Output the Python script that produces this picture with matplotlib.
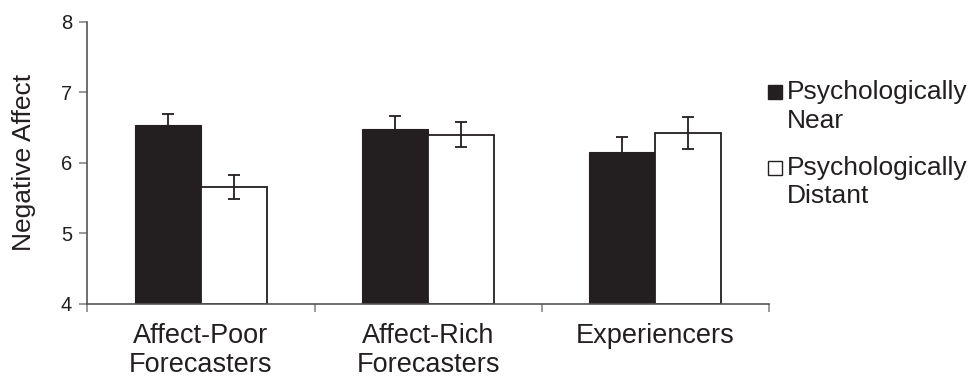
import numpy as np
import matplotlib.pyplot as plt
from matplotlib.patches import Rectangle

plt.rcParams['font.family'] = ['Liberation Sans', 'DejaVu Sans']

groups = ['Affect-Poor\nForecasters', 'Affect-Rich\nForecasters', 'Experiencers']
near_mean = [6.54, 6.48, 6.16]
near_err = [0.16, 0.18, 0.20]
distant_mean = [5.66, 6.40, 6.42]
distant_err = [0.17, 0.18, 0.23]
series_labels = [['Psychologically', 'Near'], ['Psychologically', 'Distant']]

bar_black = '#231f20'
axis_grey = '#555555'
W, H = 971, 378

fig = plt.figure(figsize=(9.71, 3.78), dpi=100)
ax = fig.add_axes([0.0899, 0.1966, 0.702, 0.7452])

x = np.arange(len(groups))
w = 0.29
ekw = dict(ecolor=bar_black, elinewidth=1.3, capsize=4.5, capthick=1.3)

ax.bar(x - w / 2, np.array(near_mean) - 4, w, bottom=4, color=bar_black,
       edgecolor=bar_black, linewidth=0.8, yerr=near_err, error_kw=ekw)
ax.bar(x + w / 2, np.array(distant_mean) - 4, w, bottom=4, color='white',
       edgecolor=bar_black, linewidth=1.3, yerr=distant_err, error_kw=ekw)

ax.set_xlim(-0.5, 2.5)
ax.set_ylim(4, 8)
ax.set_yticks([4, 5, 6, 7, 8])
ax.set_xticks(x)
ax.set_xticklabels(groups, fontsize=19.5, color=bar_black, linespacing=1.15)
ax.set_xticks(np.arange(-0.5, 3.0, 1.0), minor=True)
ax.tick_params(axis='x', which='major', length=0, pad=14)
ax.tick_params(axis='x', which='minor', length=6, width=1.2, color='#888888',
               direction='out')
ax.tick_params(axis='y', length=6, width=1.2, color='#888888', labelsize=14.5,
               labelcolor=bar_black, pad=5)

for side in ['top', 'right']:
    ax.spines[side].set_visible(False)
for side in ['left', 'bottom']:
    ax.spines[side].set_color(axis_grey)
    ax.spines[side].set_linewidth(1.2)

ax.set_ylabel('Negative Affect', fontsize=19, color=bar_black, labelpad=18)

# legend drawn by hand so the swatch sits on the first text line
swatch_fill = [bar_black, 'white']
swatch_top = [85, 161]
line1_base = [99, 175]
line2_base = [127.7, 203]
for i, (l1, l2) in enumerate(series_labels):
    fig.patches.append(Rectangle((767.5 / W, 1 - (swatch_top[i] + 14) / H),
                                 14 / W, 14 / H, transform=fig.transFigure,
                                 facecolor=swatch_fill[i], edgecolor=bar_black,
                                 linewidth=1.0))
    fig.text(787 / W, 1 - line1_base[i] / H, l1, fontsize=19, color=bar_black,
             va='baseline', ha='left')
    fig.text(787 / W, 1 - line2_base[i] / H, l2, fontsize=19, color=bar_black,
             va='baseline', ha='left')

fig.savefig('out.png', dpi=100)
